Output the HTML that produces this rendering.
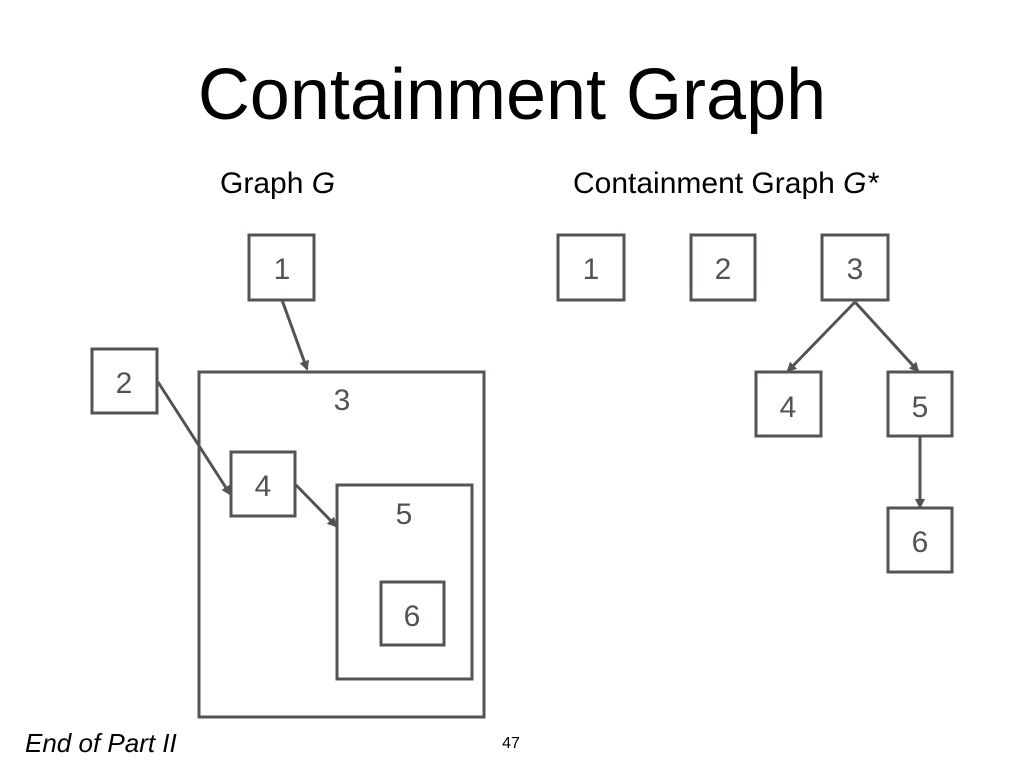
<!DOCTYPE html>
<html><head><meta charset="utf-8"><style>
html,body{margin:0;padding:0;background:#fff;}
svg{display:block;font-family:"Liberation Sans",sans-serif;}
</style></head><body>
<svg width="1024" height="768" viewBox="0 0 1024 768" xmlns="http://www.w3.org/2000/svg">
<defs><marker id="a" markerWidth="10" markerHeight="10" refX="8" refY="5" orient="auto" markerUnits="userSpaceOnUse"><path d="M0,0 L10,5 L0,10 z" fill="#505459"/></marker></defs>
<text x="512" y="119" font-size="72" text-anchor="middle" fill="#000">Containment Graph</text>
<text x="220" y="193" font-size="30" fill="#000">Graph <tspan font-style="italic">G</tspan></text>
<text x="573" y="193" font-size="30" fill="#000">Containment Graph <tspan font-style="italic">G*</tspan></text>
<g fill="none" stroke="#505459" stroke-width="3">
<rect x="249" y="235" width="65" height="65"/>
<rect x="92" y="349" width="65" height="64"/>
<rect x="199" y="372" width="285" height="345"/>
<rect x="231" y="452" width="64" height="64"/>
<rect x="337" y="485" width="135" height="194"/>
<rect x="381" y="582" width="63" height="63"/>
<rect x="558" y="235" width="66" height="65"/>
<rect x="691" y="235" width="64" height="65"/>
<rect x="822" y="235" width="66" height="65"/>
<rect x="756" y="372" width="65" height="64"/>
<rect x="888" y="372" width="64" height="64"/>
<rect x="888" y="508" width="64" height="64"/>
<line x1="282" y1="300" x2="307" y2="369" marker-end="url(#a)"/>
<line x1="158" y1="382" x2="230" y2="494" marker-end="url(#a)"/>
<line x1="296" y1="485" x2="336" y2="526" marker-end="url(#a)"/>
<line x1="855" y1="302" x2="788" y2="371" marker-end="url(#a)"/>
<line x1="855" y1="302" x2="918" y2="371" marker-end="url(#a)"/>
<line x1="920" y1="436" x2="920" y2="507" marker-end="url(#a)"/>
</g>
<g font-size="30" fill="#505459" text-anchor="middle">
<text x="282" y="279">1</text>
<text x="124" y="393">2</text>
<text x="342" y="410">3</text>
<text x="263" y="496">4</text>
<text x="404" y="524">5</text>
<text x="412" y="626">6</text>
<text x="591" y="279">1</text>
<text x="723" y="279">2</text>
<text x="855" y="279">3</text>
<text x="788" y="417">4</text>
<text x="920" y="417">5</text>
<text x="920" y="552">6</text>
</g>
<text x="25" y="752" font-size="26" font-style="italic" fill="#000">End of Part II</text>
<text x="511" y="748" font-size="16" text-anchor="middle" fill="#000">47</text>
</svg>
</body></html>
